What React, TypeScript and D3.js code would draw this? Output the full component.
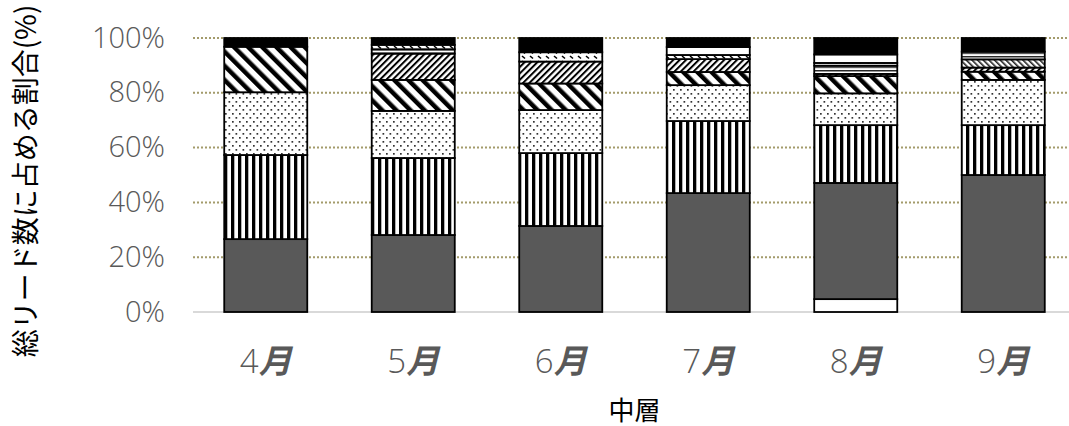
import React from "react";
import * as d3 from "d3";

// Months on the category axis
const months = ["4月", "5月", "6月", "7月", "8月", "9月"];

// Share (%) of each segment per month, stacked bottom to top
const blankBase = [0, 0, 0, 0, 4.7, 0];
const solidGray = [26.6, 28.1, 31.4, 43.4, 42.4, 50.0];
const verticalStripe = [30.7, 28.1, 26.6, 26.3, 21.1, 18.2];
const dotted = [22.9, 17.2, 15.7, 13.1, 11.6, 16.5];
const wideDiagonal = [16.6, 11.3, 9.7, 4.8, 6.3, 3.0];
const fineDiagonal = [0, 9.6, 8.0, 4.7, 0.8, 1.5];
const denseDiagonal = [0, 0, 0, 0, 0, 3.0];
const horizontalLines = [0, 1.6, 0, 0, 3.0, 2.8];
const dashMarks = [0, 1.6, 3.4, 1.5, 1.0, 0];
const blankUpper = [0, 0, 0, 2.9, 3.1, 0];
const solidBlack = [3.2, 2.5, 5.2, 3.3, 6.0, 5.0];

const yTicks = [0, 20, 40, 60, 80, 100];

const seriesList: { key: string; values: number[]; fill: string }[] = [
  { key: "blankBase", values: blankBase, fill: "#ffffff" },
  { key: "solidGray", values: solidGray, fill: "#595959" },
  { key: "verticalStripe", values: verticalStripe, fill: "url(#pVert)" },
  { key: "dotted", values: dotted, fill: "url(#pDots)" },
  { key: "wideDiagonal", values: wideDiagonal, fill: "url(#pWide)" },
  { key: "fineDiagonal", values: fineDiagonal, fill: "url(#pFine)" },
  { key: "denseDiagonal", values: denseDiagonal, fill: "url(#pDense)" },
  { key: "horizontalLines", values: horizontalLines, fill: "url(#pHoriz)" },
  { key: "dashMarks", values: dashMarks, fill: "url(#pDash)" },
  { key: "blankUpper", values: blankUpper, fill: "#ffffff" },
  { key: "solidBlack", values: solidBlack, fill: "#000000" },
];

const W = 1069;
const H = 426;
const plotLeft = 192;
const plotRight = 1077;
const plotTop = 38;
const plotBottom = 312;

export default function App() {
  const rows = months.map((m, i) => {
    const row: Record<string, number | string> = { month: m };
    const total = d3.sum(seriesList, (s) => s.values[i]);
    seriesList.forEach((s) => {
      row[s.key] = (s.values[i] / total) * 100;
    });
    return row;
  });

  const stacked = d3
    .stack<Record<string, number | string>>()
    .keys(seriesList.map((s) => s.key))
    .value((d, k) => d[k] as number)(rows);

  const x = d3
    .scaleBand<string>()
    .domain(months)
    .range([plotLeft, plotRight])
    .paddingInner(0.437)
    .paddingOuter(0.2185);

  const y = d3.scaleLinear().domain([0, 100]).range([plotBottom, plotTop]);

  const tickFont = "'Open Sans', 'Lato', sans-serif";
  const cjkFont = "'Noto Sans CJK JP', 'Noto Sans', sans-serif";

  return (
    <svg
      width={W}
      height={H}
      style={{ position: "absolute", left: 0, top: 0, background: "#fff" }}
    >
      <defs>
        <pattern id="pVert" width={7} height={7} patternUnits="userSpaceOnUse">
          <rect width={7} height={7} fill="#fff" />
          <rect x={0} width={3.3} height={7} fill="#000" />
        </pattern>
        <pattern id="pDots" width={7} height={8} patternUnits="userSpaceOnUse">
          <rect width={7} height={8} fill="#fff" />
          <rect x={1} y={1} width={1.7} height={1.7} fill="#333" />
          <rect x={4.5} y={5} width={1.7} height={1.7} fill="#333" />
        </pattern>
        <pattern
          id="pWide"
          width={10}
          height={10}
          patternUnits="userSpaceOnUse"
          patternTransform="rotate(-45)"
        >
          <rect width={10} height={10} fill="#fff" />
          <rect x={0} width={4.5} height={10} fill="#000" />
        </pattern>
        <pattern
          id="pFine"
          width={4.5}
          height={4.5}
          patternUnits="userSpaceOnUse"
          patternTransform="rotate(45)"
        >
          <rect width={4.5} height={4.5} fill="#fff" />
          <rect x={0} width={2} height={4.5} fill="#000" />
        </pattern>
        <pattern
          id="pDense"
          width={4}
          height={4}
          patternUnits="userSpaceOnUse"
          patternTransform="rotate(-45)"
        >
          <rect width={4} height={4} fill="#fff" />
          <rect x={0} width={1.6} height={4} fill="#222" />
        </pattern>
        <pattern id="pHoriz" width={8} height={3.5} patternUnits="userSpaceOnUse">
          <rect width={8} height={3.5} fill="#fff" />
          <rect y={0} width={8} height={1.4} fill="#222" />
        </pattern>
        <pattern id="pDash" width={8} height={5} patternUnits="userSpaceOnUse">
          <rect width={8} height={5} fill="#fff" />
          <path d="M2,1 L5,3.5" stroke="#000" strokeWidth={1.6} />
        </pattern>
      </defs>

      {/* gridlines */}
      {yTicks.map((t) =>
        t === 0 ? (
          <line
            key={t}
            x1={193}
            x2={W}
            y1={y(t)}
            y2={y(t)}
            stroke="#d9d9d9"
            strokeWidth={2}
          />
        ) : (
          <line
            key={t}
            x1={193}
            x2={W}
            y1={y(t)}
            y2={y(t)}
            stroke="#a39b6b"
            strokeWidth={2}
            strokeDasharray="2 2"
          />
        )
      )}

      {/* stacked bars */}
      {stacked.map((layer, li) => (
        <g key={layer.key}>
          {layer.map((d, i) => {
            const h = y(d[0]) - y(d[1]);
            if (h <= 0.01) return null;
            return (
              <rect
                key={i}
                x={x(months[i])}
                y={y(d[1])}
                width={x.bandwidth()}
                height={h}
                fill={seriesList[li].fill}
                stroke="#000"
                strokeWidth={1.8}
              />
            );
          })}
        </g>
      ))}

      {/* y tick labels */}
      {yTicks.map((t) => (
        <text
          key={t}
          x={165}
          y={y(t) - 2}
          textAnchor="end"
          dominantBaseline="central"
          fontFamily={tickFont}
          fontWeight={300}
          fontSize={29}
          fill="#595959"
        >
          {t}%
        </text>
      ))}

      {/* x tick labels */}
      {months.map((m) => (
        <text
          key={m}
          x={(x(m) as number) + x.bandwidth() / 2}
          y={373}
          textAnchor="middle"
          fill="#595959"
          fontSize={33}
        >
          <tspan fontFamily={tickFont} fontWeight={300}>
            {m.replace("月", "")}
          </tspan>
          <tspan fontFamily={cjkFont} fontWeight={700} fontStyle="italic">
            月
          </tspan>
        </text>
      ))}

      {/* axis titles */}
      <text
        x={(plotLeft + plotRight) / 2}
        y={408}
        textAnchor="middle"
        dominantBaseline="central"
        fontFamily={cjkFont}
        fontSize={26}
        fill="#000"
      >
        中層
      </text>
      <text
        transform={`translate(24,${181}) rotate(-90)`}
        textAnchor="middle"
        dominantBaseline="central"
        fontFamily={cjkFont}
        fontSize={28}
        fill="#000"
      >
        総リード数に占める割合(%)
      </text>
    </svg>
  );
}
